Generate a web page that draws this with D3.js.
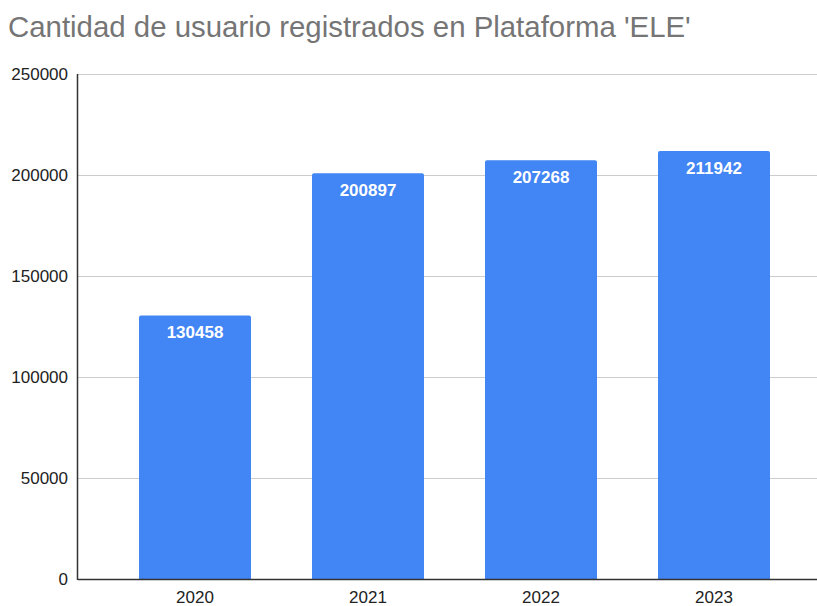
<!DOCTYPE html>
<html>
<head>
<meta charset="utf-8">
<script src="https://cdn.jsdelivr.net/npm/d3@7"></script>
<style>
  body { margin: 0; background: #fff; }
  svg { display: block; font-family: Arial, "Liberation Sans", sans-serif; }
</style>
</head>
<body>
<script>
// chart data
const years = ["2020", "2021", "2022", "2023"];
const users = [130458, 200897, 207268, 211942];
const yTicks = [0, 50000, 100000, 150000, 200000, 250000];
const title = "Cantidad de usuario registrados en Plataforma 'ELE'";

const W = 817, H = 606;
const plot = { left: 78, right: 817, top: 74, bottom: 579 };

const svg = d3.select("body").append("svg")
    .attr("width", W)
    .attr("height", H);

// title
svg.append("text")
    .attr("x", 8)
    .attr("y", 37)
    .attr("font-size", 29.4)
    .attr("fill", "#757575")
    .text(title);

const x = d3.scaleBand()
    .domain(years)
    .range([108.5, 800.5])
    .paddingInner(0.3526)
    .paddingOuter(0.1763);

const y = d3.scaleLinear()
    .domain([0, 250000])
    .range([plot.bottom, plot.top]);

// gridlines
svg.append("g")
    .selectAll("line")
    .data(yTicks.filter(d => d > 0))
    .enter().append("line")
    .attr("x1", plot.left)
    .attr("x2", plot.right)
    .attr("y1", d => Math.round(y(d)) + 0.5)
    .attr("y2", d => Math.round(y(d)) + 0.5)
    .attr("stroke", "#cccccc")
    .attr("stroke-width", 1);

// y axis labels
const yAxis = svg.append("g")
    .attr("transform", "translate(" + plot.left + ",0)")
    .call(d3.axisLeft(y).tickValues(yTicks).tickSize(0).tickPadding(10).tickFormat(d3.format("d")));
yAxis.select(".domain").remove();
yAxis.selectAll("text")
    .attr("font-size", 17)
    .attr("font-family", "Arial, 'Liberation Sans', sans-serif")
    .attr("fill", "#222");

// bars with slightly rounded tops
const r = 2;
svg.append("g")
    .selectAll("path")
    .data(years.map((yr, i) => ({ year: yr, value: users[i] })))
    .enter().append("path")
    .attr("fill", "#4285f4")
    .attr("d", d => {
        const x0 = x(d.year), x1 = x0 + x.bandwidth();
        const t = y(d.value), b = y(0);
        return `M${x0},${b}V${t + r}Q${x0},${t} ${x0 + r},${t}H${x1 - r}Q${x1},${t} ${x1},${t + r}V${b}Z`;
    });

// value labels
svg.append("g")
    .selectAll("text")
    .data(years.map((yr, i) => ({ year: yr, value: users[i] })))
    .enter().append("text")
    .attr("x", d => x(d.year) + x.bandwidth() / 2)
    .attr("y", d => y(d.value) + 23)
    .attr("text-anchor", "middle")
    .attr("font-size", 17)
    .attr("font-weight", "bold")
    .attr("fill", "#fff")
    .text(d => d.value);

// x axis
const xAxis = svg.append("g")
    .attr("transform", "translate(0," + plot.bottom + ")")
    .call(d3.axisBottom(x).tickSize(0).tickPadding(12));
xAxis.select(".domain").remove();
xAxis.selectAll("text")
    .attr("font-size", 17)
    .attr("font-family", "Arial, 'Liberation Sans', sans-serif")
    .attr("fill", "#222");

// axis lines
svg.append("line")
    .attr("x1", plot.left).attr("x2", plot.right)
    .attr("y1", plot.bottom + 0.5).attr("y2", plot.bottom + 0.5)
    .attr("stroke", "#333").attr("stroke-width", 1.5);
svg.append("line")
    .attr("x1", plot.left - 0.5).attr("x2", plot.left - 0.5)
    .attr("y1", plot.top).attr("y2", plot.bottom + 1)
    .attr("stroke", "#333").attr("stroke-width", 1.5);
</script>
</body>
</html>
